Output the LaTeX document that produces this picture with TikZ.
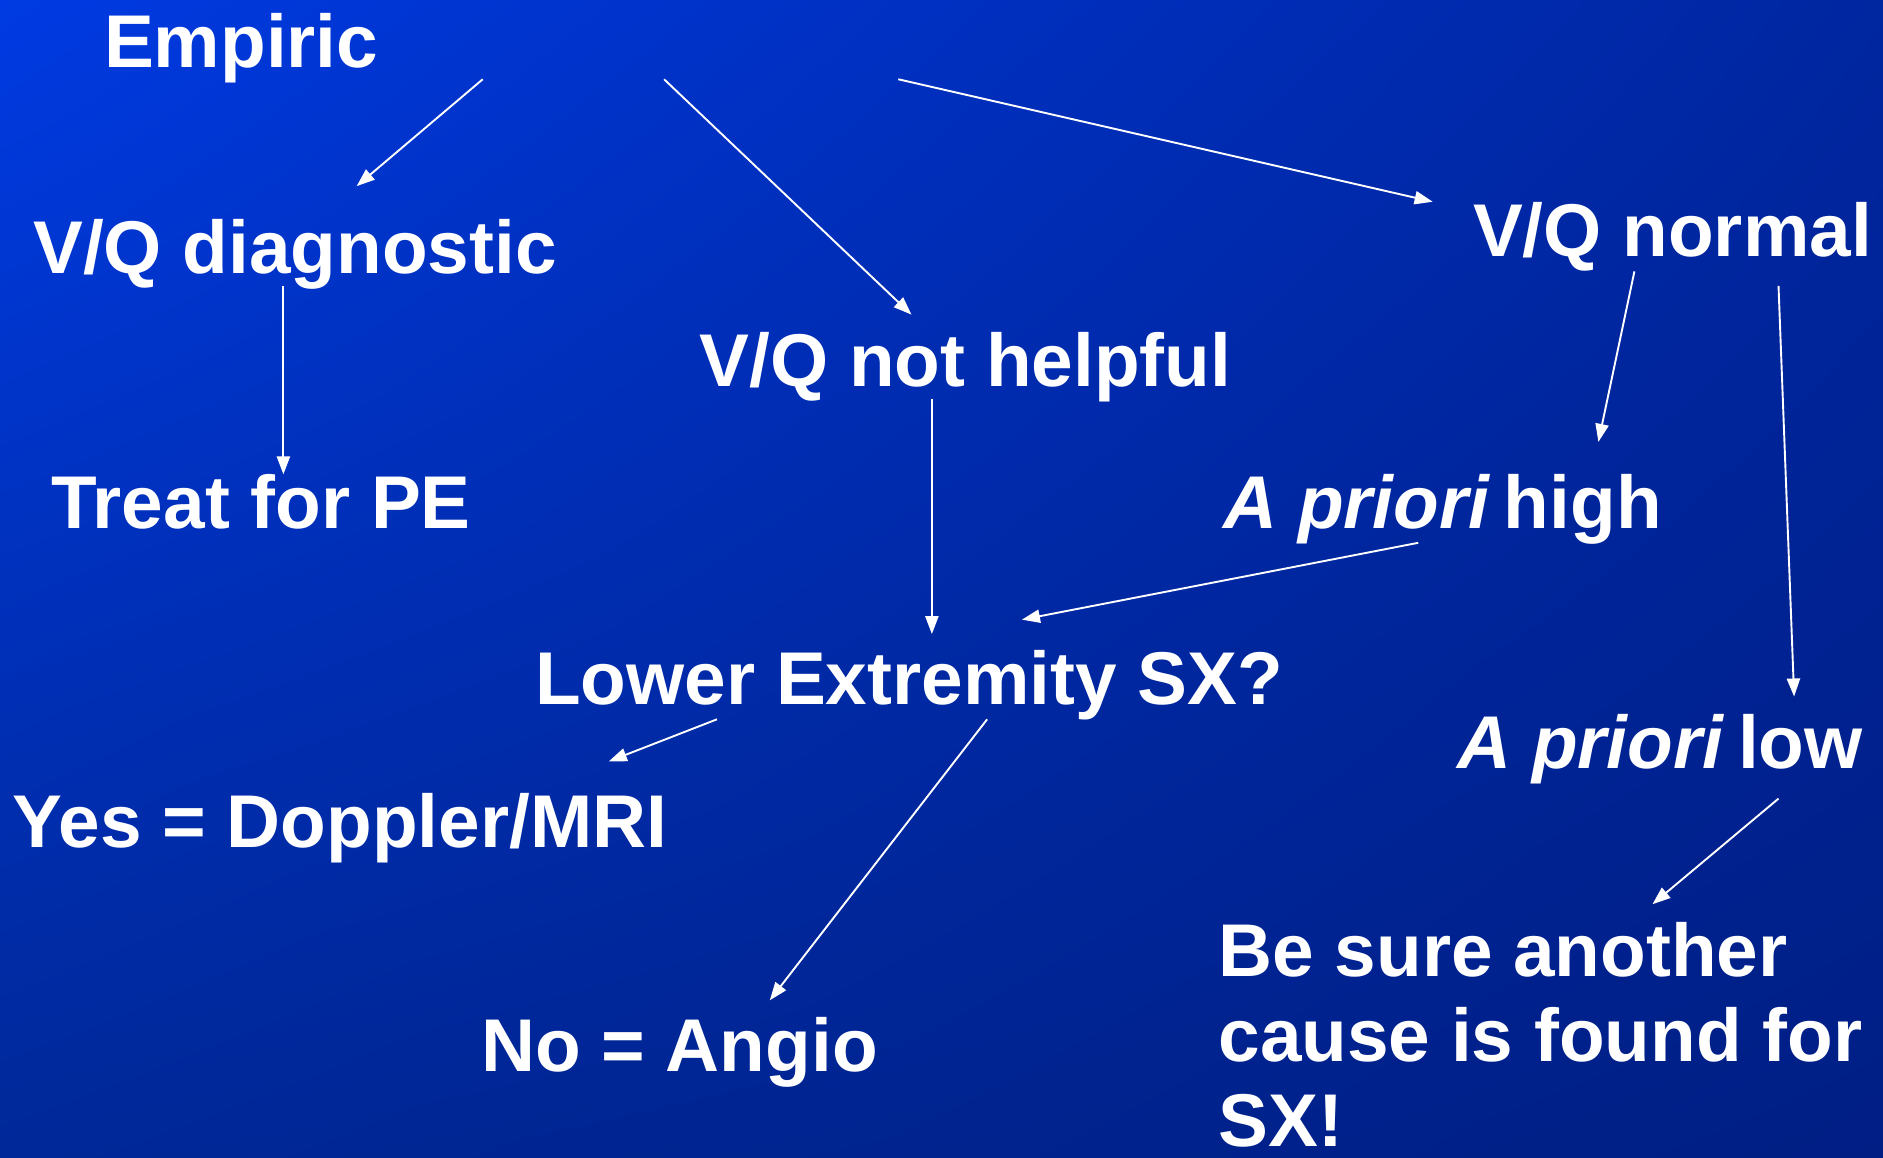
\documentclass[tikz,border=0pt]{standalone}
\usepackage{fontspec}
\setmainfont{Liberation Sans}
\usetikzlibrary{calc,arrows.meta,shadings}

\definecolor{bgul}{RGB}{0,58,226}
\definecolor{bgur}{RGB}{0,38,160}
\definecolor{bgll}{RGB}{0,40,152}
\definecolor{bglr}{RGB}{0,30,132}

\begin{document}
\begin{tikzpicture}[x=0.01cm,y=-0.01cm]
    \tikzstyle{dedge} = [draw=white,line width=0.45pt,-{Triangle[length=1.5mm,width=1.1mm]}]

    \tikzstyle{stage}=[
      anchor=base west,
      inner sep=0pt,
      text=white,
      font=\fontsize{17.7}{20.2}\selectfont\bfseries,
    ]

    \shade[upper left=bgul,upper right=bgur,lower left=bgll,lower right=bglr]
          (0,0) rectangle (1568,964);
    \useasboundingbox (0,0) rectangle (1568,964);

    \node[stage] (empiric) at (86,56) {Empiric};
    \node[stage] (vqdiag) at (27,228) {V/Q diagnostic};
    \node[stage] (vqnot) at (582,322) {V/Q not helpful};
    \node[stage] (vqnorm) at (1226,214) {V/Q normal};
    \node[stage] (treat) at (42,440) {Treat for PE};
    \node[stage] (aprhigh) at (1018,440) {{\itshape A priori}\hspace{-0.08em} high};
    \node[stage] (lowerext) at (445,587) {Lower Extremity SX?};
    \node[stage] (aprlow) at (1213,640) {{\itshape A priori}\hspace{-0.08em} low};
    \node[stage] (yes) at (10,706) {Yes = Doppler/MRI};
    \node[stage] (no) at (400,892) {No = Angio};
    % base of a multi-line node is its last line
    \node[stage,align=left] (besure) at (1014,955) {Be sure another\\cause is found for\\SX!};

    \draw[dedge] ($(empiric.base west)+(316,10)$) -- ($(vqdiag.base west)+(270,-73)$);
    \draw[dedge] ($(empiric.base west)+(467,10)$) -- ($(vqnot.base west)+(177,-60)$);
    \draw[dedge] ($(empiric.base west)+(662,10)$) -- ($(vqnorm.base west)+(-33,-46)$);
    \draw[dedge] ($(vqdiag.base west)+(209,10)$) -- ($(treat.base west)+(194,-45)$);
    \draw[dedge] ($(vqnot.base west)+(194,10)$) -- ($(lowerext.base west)+(331,-59)$);
    \draw[dedge] ($(vqnorm.base west)+(135,12)$) -- ($(aprhigh.base west)+(313,-72)$);
    \draw[dedge] ($(vqnorm.base west)+(255,24)$) -- ($(aprlow.base west)+(281,-60)$);
    \draw[dedge] ($(aprhigh.base west)+(163,12)$) -- ($(lowerext.base west)+(406,-71)$);
    \draw[dedge] ($(lowerext.base west)+(152,12)$) -- ($(yes.base west)+(497,-72)$);
    \draw[dedge] ($(lowerext.base west)+(377,12)$) -- ($(no.base west)+(241,-59)$);
    \draw[dedge] ($(aprlow.base west)+(268,25)$) -- ($(besure.base west)+(362,-202)$);
\end{tikzpicture}
\end{document}
